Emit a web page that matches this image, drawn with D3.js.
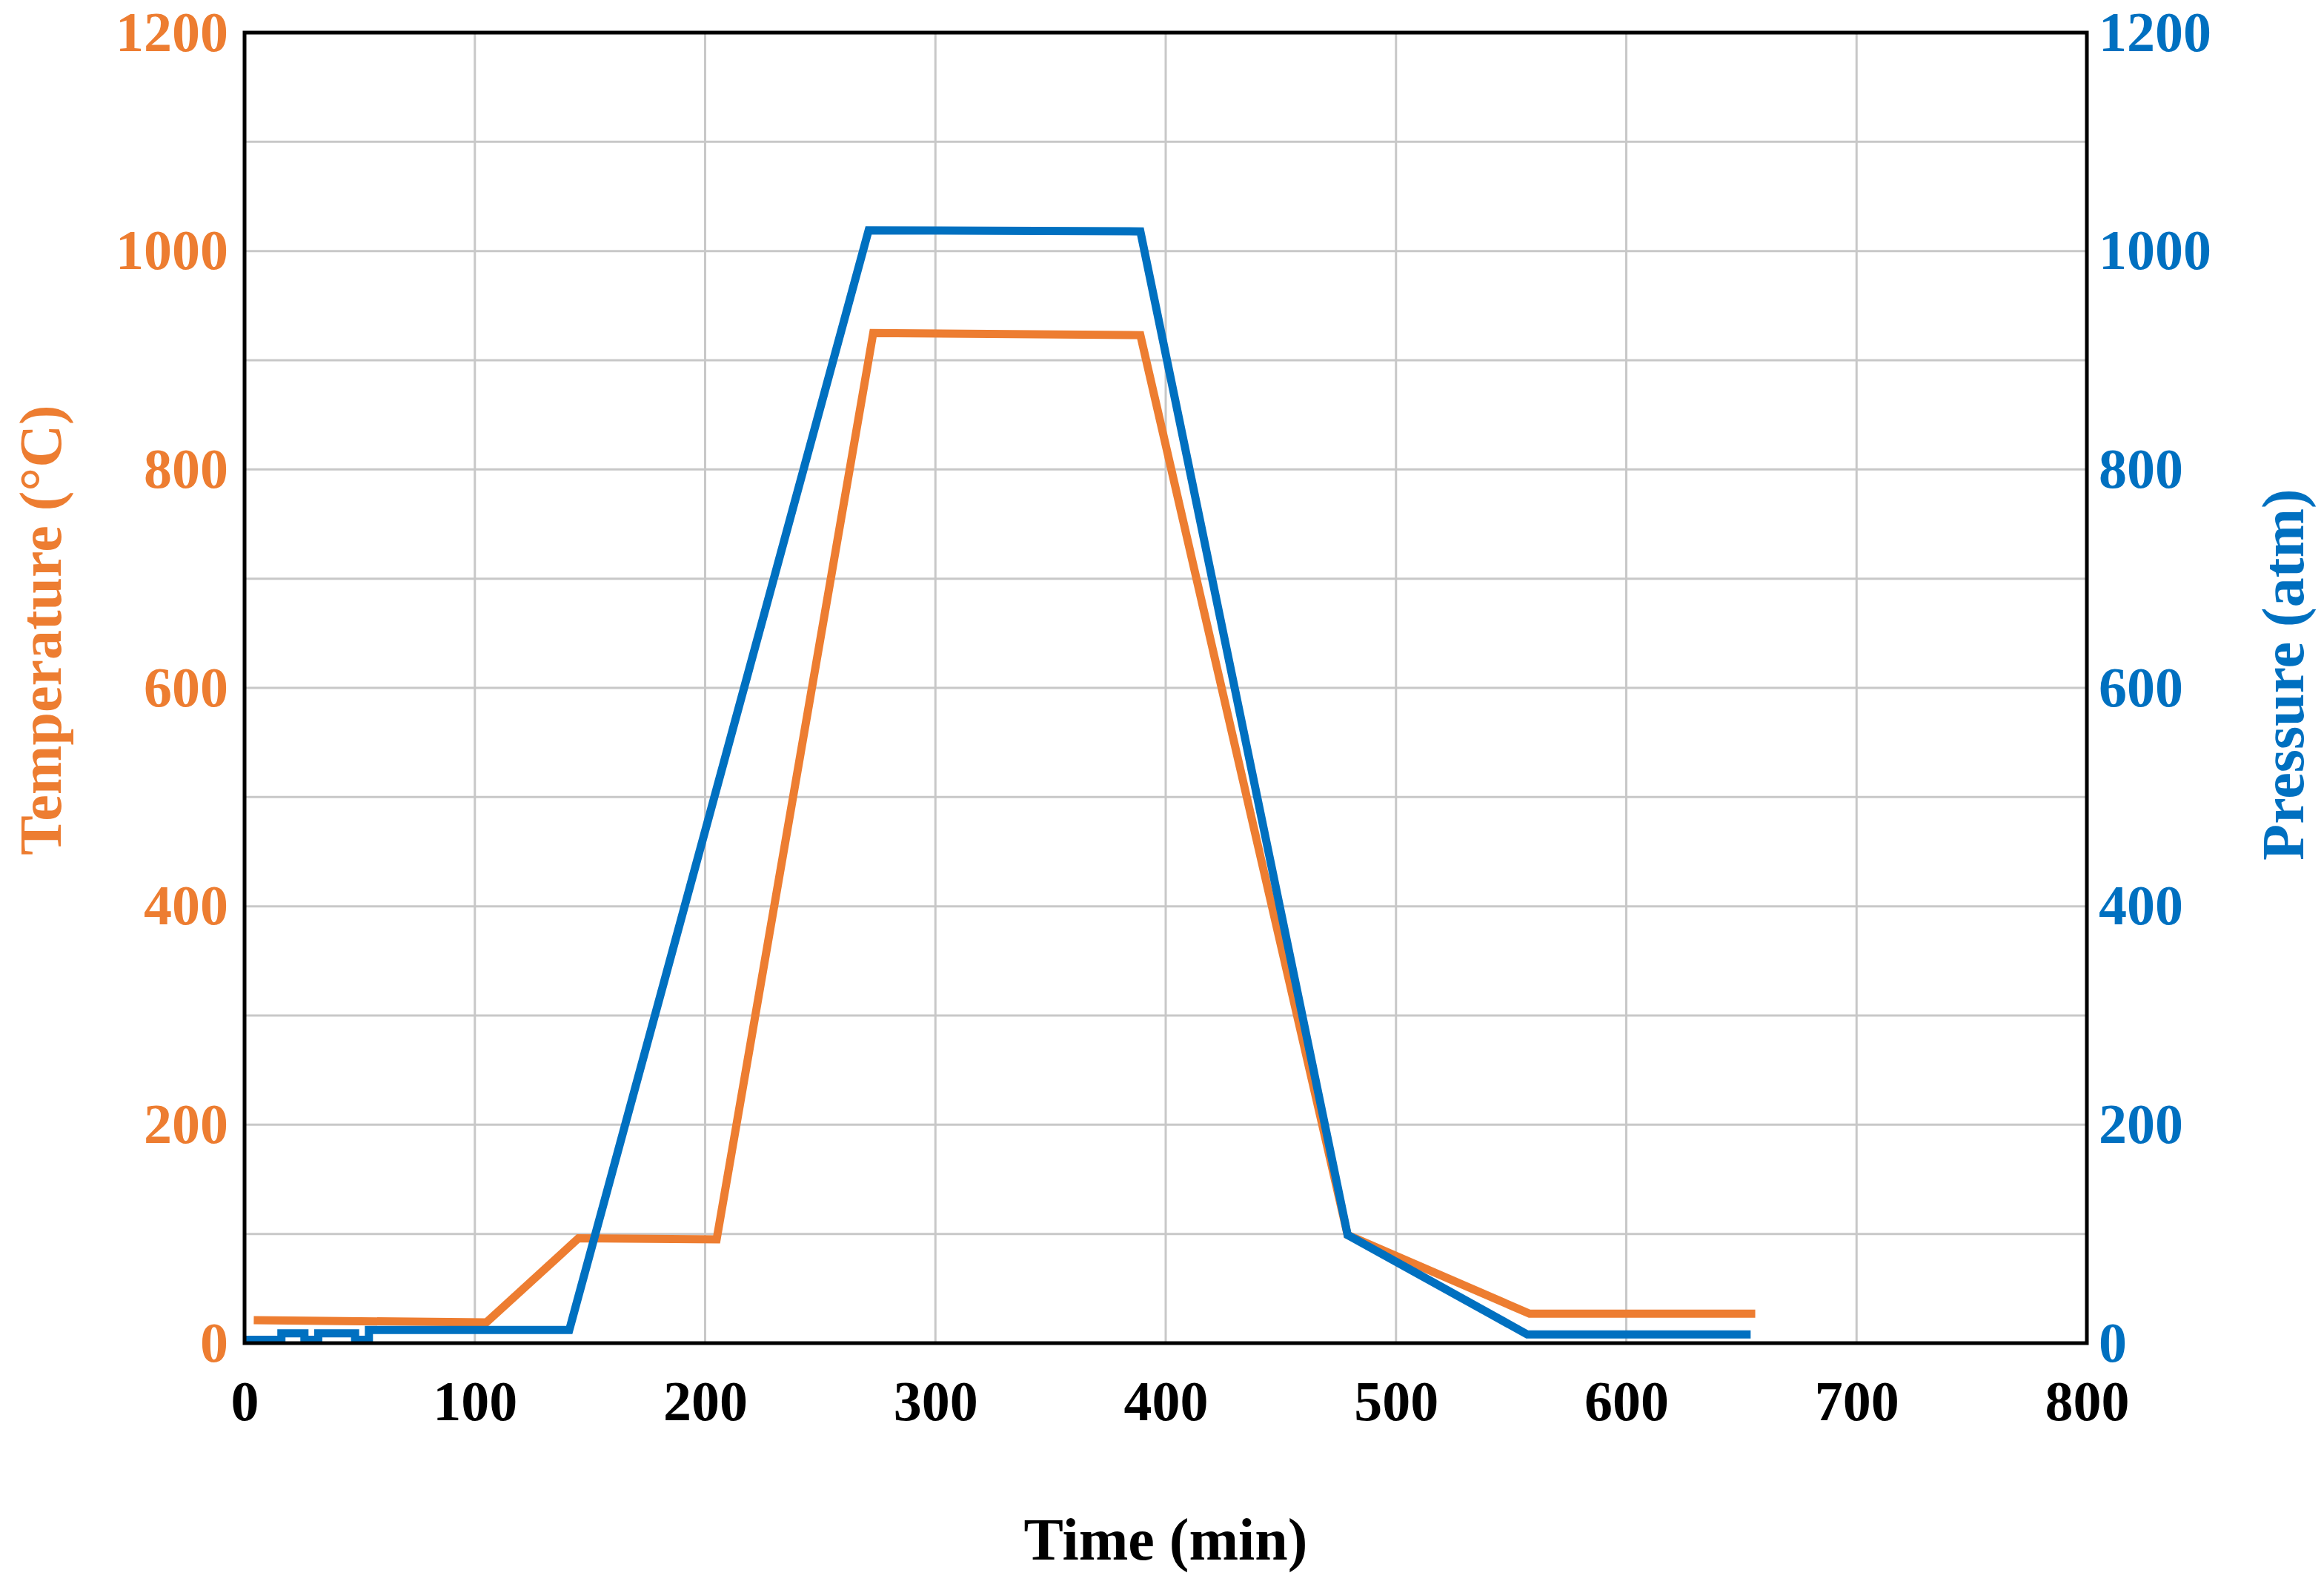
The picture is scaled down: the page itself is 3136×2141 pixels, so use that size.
<!DOCTYPE html>
<html>
<head>
<meta charset="utf-8">
<script src="https://cdn.jsdelivr.net/npm/d3@7"></script>
<style>
body { margin: 0; background: #fff; }
text { font-family: "Liberation Serif", "Times New Roman", serif; font-weight: bold; }
</style>
</head>
<body>
<svg id="chart" width="3136" height="2141"></svg>
<script>
// temperature profile (min, °C)
var tempTime = [4, 105, 145, 205, 273, 389, 479, 558, 656];
var tempVals = [21, 19, 96, 95, 925, 923, 99, 27, 27];

// pressure profile (min, atm)
var presTime = [0, 16, 16, 26, 26, 32, 32, 48, 48, 54, 54, 141, 271, 389, 479, 557, 654];
var presVals = [3, 3, 9, 9, 3, 3, 9, 9, 3, 3, 12, 12, 1019, 1018, 99, 8, 8];

var xTicks = [0, 100, 200, 300, 400, 500, 600, 700, 800];
var yTicks = [0, 200, 400, 600, 800, 1000, 1200];
var gridY = [100, 200, 300, 400, 500, 600, 700, 800, 900, 1000, 1100];

var orange = "#ED7D31", blue = "#0070C0";
var mLeft = 330, mRight = 2816, mTop = 44, mBottom = 1812;

var svg = d3.select("#chart");

var x = d3.scaleLinear().domain([0, 800]).range([mLeft, mRight]);
var yT = d3.scaleLinear().domain([0, 1200]).range([mBottom, mTop]);
var yP = d3.scaleLinear().domain([0, 1200]).range([mBottom, mTop]);
var fmt = d3.format("d");

// grid
svg.append("g").selectAll("line").data(xTicks.slice(1, -1)).join("line")
	.attr("x1", d => x(d)).attr("x2", d => x(d))
	.attr("y1", mTop).attr("y2", mBottom)
	.attr("stroke", "#c8c8c8").attr("stroke-width", 3);
svg.append("g").selectAll("line").data(gridY).join("line")
	.attr("x1", mLeft).attr("x2", mRight)
	.attr("y1", d => yT(d)).attr("y2", d => yT(d))
	.attr("stroke", "#c8c8c8").attr("stroke-width", 3);

// lines
var lineT = d3.line().x((d, i) => x(tempTime[i])).y(d => yT(d));
var lineP = d3.line().x((d, i) => x(presTime[i])).y(d => yP(d));

svg.append("path").attr("d", lineT(tempVals))
	.attr("fill", "none").attr("stroke", orange).attr("stroke-width", 11);
svg.append("path").attr("d", lineP(presVals))
	.attr("fill", "none").attr("stroke", blue).attr("stroke-width", 11);

// frame
svg.append("rect").attr("x", mLeft).attr("y", mTop)
	.attr("width", mRight - mLeft).attr("height", mBottom - mTop)
	.attr("fill", "none").attr("stroke", "#000").attr("stroke-width", 5);

// axes
var axB = svg.append("g").attr("transform", "translate(0," + mBottom + ")")
	.call(d3.axisBottom(x).tickValues(xTicks).tickFormat(fmt).tickSize(0).tickPadding(50));
var axL = svg.append("g").attr("transform", "translate(" + mLeft + ",0)")
	.call(d3.axisLeft(yT).tickValues(yTicks).tickFormat(fmt).tickSize(0).tickPadding(22));
var axR = svg.append("g").attr("transform", "translate(" + mRight + ",0)")
	.call(d3.axisRight(yP).tickValues(yTicks).tickFormat(fmt).tickSize(0).tickPadding(16));

[axB, axL, axR].forEach(function(a) {
	a.select(".domain").remove();
	a.selectAll("text").style("font-size", "76px").style("font-family", "Liberation Serif").style("font-weight", "bold");
});
axB.selectAll("text").attr("fill", "#000");
axL.selectAll("text").attr("fill", orange);
axR.selectAll("text").attr("fill", blue);

// titles
svg.append("text").attr("x", (mLeft + mRight) / 2).attr("y", 2104)
	.attr("text-anchor", "middle").attr("font-size", 80).attr("fill", "#000")
	.text("Time (min)");
svg.append("text").attr("transform", "translate(82,850) rotate(-90)")
	.attr("text-anchor", "middle").attr("font-size", 80).attr("fill", orange)
	.text("Temperature (°C)");
svg.append("text").attr("transform", "translate(3108,910) rotate(-90)")
	.attr("text-anchor", "middle").attr("font-size", 80).attr("fill", blue)
	.text("Pressure (atm)");
</script>
</body>
</html>
